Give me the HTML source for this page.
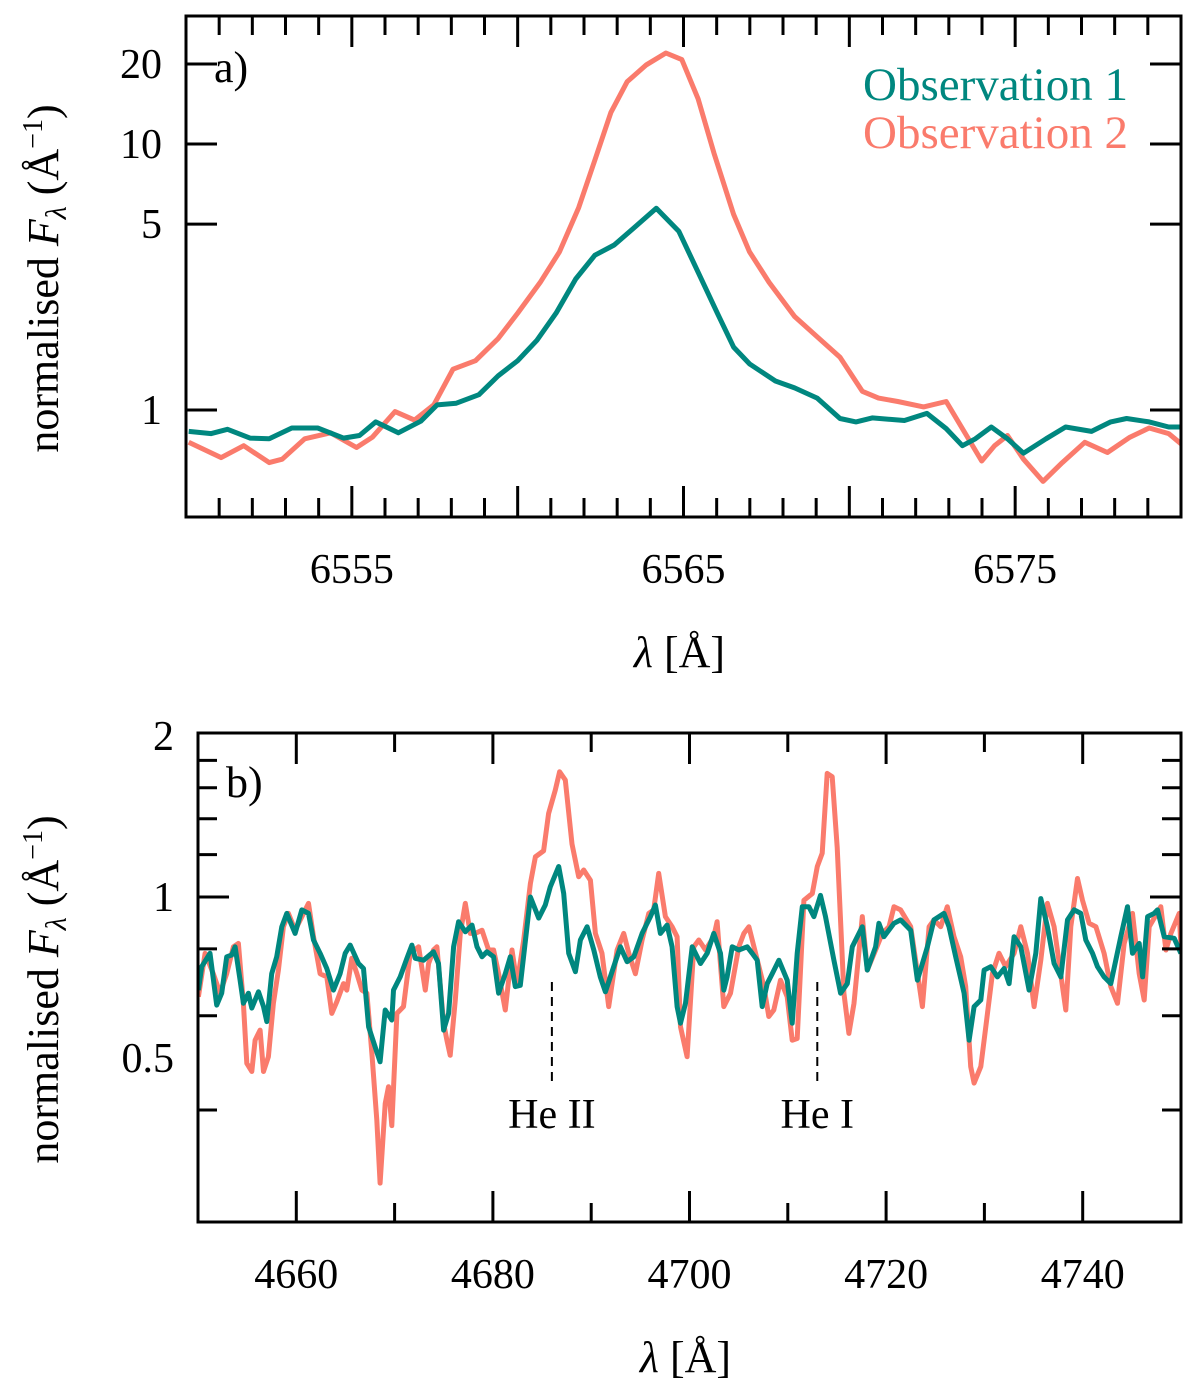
<!DOCTYPE html>
<html><head><meta charset="utf-8"><style>
html,body{margin:0;padding:0;background:#fff;}
svg{display:block;}
svg text{font-family:"Liberation Serif","Times New Roman","DejaVu Serif",serif;}
</style></head><body>
<svg id="chart" width="1200" height="1383" viewBox="0 0 1200 1383" xmlns="http://www.w3.org/2000/svg" font-family="Liberation Serif, serif"></svg>
<script>
// ---------- Panel a data (H-alpha) ----------
const aObs1Wave=[6550.08,6550.76,6551.25,6551.93,6552.51,6553.19,6553.97,6554.75,6555.23,6555.72,6556.40,6557.08,6557.57,6558.15,6558.83,6559.41,6560.00,6560.58,6561.16,6561.75,6562.33,6562.91,6563.50,6564.18,6564.86,6565.44,6566.02,6566.51,6567.00,6567.77,6568.35,6569.03,6569.72,6570.20,6570.69,6571.66,6572.34,6572.92,6573.41,6573.80,6574.28,6574.77,6575.25,6575.93,6576.52,6577.30,6577.88,6578.36,6579.04,6579.63,6580.0];
const aObs1Flux=[0.831,0.815,0.846,0.784,0.779,0.856,0.856,0.784,0.802,0.902,0.821,0.908,1.045,1.061,1.142,1.343,1.533,1.828,2.314,3.108,3.819,4.172,4.833,5.733,4.693,3.296,2.314,1.724,1.488,1.285,1.211,1.109,0.929,0.902,0.934,0.913,0.971,0.851,0.734,0.779,0.863,0.779,0.688,0.779,0.863,0.831,0.902,0.929,0.902,0.863,0.863];
const aObs2Wave=[6550.08,6551.06,6551.74,6552.51,6552.90,6553.58,6554.36,6555.14,6555.62,6556.30,6556.89,6557.47,6558.05,6558.73,6559.41,6560.00,6560.68,6561.26,6561.84,6562.33,6562.81,6563.30,6563.88,6564.47,6564.95,6565.44,6565.92,6566.51,6566.99,6567.58,6568.35,6569.03,6569.72,6570.39,6570.88,6571.46,6572.24,6572.92,6573.41,6573.99,6574.38,6574.77,6575.25,6575.84,6576.42,6577.10,6577.78,6578.46,6579.04,6579.63,6580.0];
const aObs2Flux=[0.756,0.662,0.734,0.634,0.653,0.779,0.821,0.723,0.790,0.986,0.916,1.045,1.424,1.533,1.856,2.314,3.018,3.933,5.77,8.71,13.15,17.14,19.86,22.0,20.77,14.8,9.24,5.44,3.933,3.018,2.247,1.884,1.579,1.176,1.109,1.076,1.027,1.076,0.851,0.643,0.734,0.802,0.653,0.539,0.634,0.756,0.692,0.790,0.856,0.815,0.746];
const aXTicks=[6555,6565,6575];
const aYTicks=[1,5,10,20];

// ---------- Panel b data (He region) ----------
const bObs1Wave=[4650.04,4650.38,4651.22,4651.90,4652.41,4652.92,4653.43,4653.77,4654.28,4654.62,4655.13,4655.47,4656.15,4656.66,4657.00,4657.50,4658.01,4658.52,4659.03,4659.88,4660.56,4661.24,4661.75,4662.42,4663.10,4663.78,4664.46,4664.97,4665.48,4666.33,4666.84,4667.35,4668.02,4668.53,4669.04,4669.72,4669.89,4670.57,4671.25,4671.76,4672.10,4672.95,4673.96,4674.47,4674.98,4675.49,4676.00,4676.51,4677.19,4677.87,4678.38,4678.89,4679.39,4680.07,4680.58,4681.26,4681.77,4682.28,4682.79,4683.47,4683.81,4684.66,4685.33,4685.84,4686.69,4687.20,4687.71,4688.39,4688.90,4689.58,4690.26,4690.93,4691.44,4692.29,4692.97,4693.65,4694.33,4695.18,4696.02,4696.53,4697.04,4697.72,4698.23,4698.74,
4699.08,4699.59,4700.27,4701.12,4701.80,4702.47,4703.15,4703.49,4703.83,4704.34,4705.02,4705.87,4706.38,4706.89,4707.40,4707.90,4708.41,4709.09,4709.94,4710.45,4710.96,4711.47,4712.15,4712.66,4713.33,4713.84,4714.69,4715.37,4716.05,4716.56,4717.58,4718.09,4718.93,4719.27,4719.78,4720.80,4721.48,4722.50,4723.18,4724.20,4724.87,4725.89,4726.40,4727.08,4727.93,4728.44,4728.95,4729.63,4729.97,4730.64,4731.32,4732.00,4732.51,4733.02,4733.70,4734.55,4735.23,4735.74,4736.41,4737.09,4737.77,4738.45,4739.13,4739.81,4740.32,4741.00,4741.51,4742.18,4742.86,4743.88,4744.56,4745.07,4745.75,4746.09,4746.60,4747.27,4747.61,4748.29,4749.31,4749.99];
const bObs1Flux=[0.670,0.741,0.785,0.628,0.661,0.773,0.779,0.807,0.699,0.633,0.661,0.620,0.665,0.624,0.585,0.719,0.773,0.880,0.932,0.855,0.946,0.932,0.831,0.785,0.735,0.670,0.719,0.785,0.813,0.751,0.735,0.572,0.525,0.492,0.615,0.589,0.670,0.709,0.768,0.813,0.768,0.762,0.790,0.751,0.564,0.606,0.807,0.899,0.861,0.886,0.807,0.773,0.790,0.773,0.661,0.719,0.773,0.680,0.684,0.880,1.000,0.913,0.966,1.045,1.140,1.015,0.785,0.725,0.831,0.880,0.796,0.709,0.665,0.741,0.807,0.757,0.773,0.855,0.919,0.966,0.855,0.886,0.807,0.624,
0.581,0.633,0.807,0.751,0.785,0.855,0.785,0.670,0.709,0.807,0.796,0.807,0.785,0.762,0.624,0.689,0.719,0.762,0.699,0.581,0.785,0.959,0.959,0.919,1.007,0.919,0.762,0.661,0.689,0.807,0.880,0.730,0.807,0.893,0.843,0.893,0.906,0.867,0.699,0.807,0.906,0.932,0.880,0.773,0.661,0.540,0.624,0.642,0.730,0.741,0.709,0.735,0.689,0.843,0.807,0.670,0.785,0.993,0.880,0.751,0.709,0.906,0.946,0.932,0.831,0.785,0.741,0.709,0.689,0.843,0.959,0.785,0.819,0.709,0.919,0.932,0.946,0.843,0.837,0.785];
const bObs2Wave=[4650.04,4650.72,4651.56,4652.24,4652.92,4653.60,4654.11,4654.62,4654.96,4655.47,4655.81,4656.32,4656.66,4657.16,4657.67,4658.18,4658.69,4659.20,4659.88,4661.24,4661.75,4662.42,4663.10,4663.61,4664.12,4664.80,4665.14,4665.65,4666.16,4666.67,4667.18,4667.69,4668.19,4668.53,4669.04,4669.38,4669.72,4670.23,4670.91,4671.59,4672.44,4673.12,4673.46,4673.96,4674.30,4674.98,4675.32,4675.66,4676.17,4676.68,4677.19,4677.70,4678.21,4678.89,4679.56,4680.07,4680.58,4681.26,4681.94,4682.45,4683.13,4683.81,4684.32,4685.16,4685.67,4686.35,4686.79,4687.37,4688.05,4688.73,4689.24,4689.92,4690.43,4691.10,4691.78,4692.63,4693.31,4693.82,4694.50,4695.18,4695.86,4696.36,4696.87,4697.55,4698.23,4698.74,
4699.08,4699.76,4700.44,4700.95,4701.63,4702.47,4702.81,4703.49,4704.17,4705.02,4705.53,4706.04,4706.72,4707.57,4708.07,4708.58,4709.26,4709.94,4710.45,4710.96,4711.64,4712.49,4713.00,4713.50,4714.01,4714.52,4715.03,4715.71,4716.22,4716.73,4717.58,4718.09,4718.93,4719.61,4720.29,4720.80,4721.48,4722.50,4723.69,4724.37,4724.87,4725.55,4726.23,4726.91,4727.59,4728.10,4728.61,4728.95,4729.63,4730.14,4730.81,4731.49,4732.17,4733.02,4733.70,4734.38,4735.06,4735.74,4736.41,4737.09,4737.94,4738.28,4738.79,4739.47,4739.98,4740.66,4741.34,4742.18,4742.86,4743.54,4744.22,4745.07,4745.75,4746.26,4746.77,4747.95,4748.46,4748.97,4749.82,4750.0];
const bObs2Flux=[0.651,0.785,0.719,0.661,0.719,0.807,0.819,0.633,0.489,0.472,0.540,0.564,0.472,0.503,0.633,0.730,0.880,0.932,0.867,0.973,0.843,0.719,0.709,0.606,0.637,0.689,0.670,0.768,0.719,0.670,0.661,0.510,0.383,0.292,0.411,0.442,0.374,0.606,0.624,0.785,0.807,0.670,0.751,0.796,0.807,0.581,0.540,0.506,0.642,0.855,0.973,0.855,0.855,0.867,0.796,0.796,0.719,0.615,0.796,0.689,0.831,1.060,1.189,1.220,1.432,1.584,1.714,1.654,1.256,1.091,1.123,1.075,0.855,0.785,0.624,0.796,0.855,0.785,0.719,0.831,0.932,0.946,1.107,0.919,0.880,0.843,
0.572,0.503,0.807,0.831,0.796,0.843,0.899,0.624,0.661,0.807,0.855,0.880,0.785,0.680,0.598,0.615,0.699,0.651,0.540,0.544,0.986,1.015,1.140,1.207,1.702,1.678,1.238,0.661,0.556,0.633,0.919,0.730,0.796,0.855,0.880,0.959,0.946,0.880,0.624,0.880,0.906,0.880,0.959,0.843,0.773,0.680,0.482,0.449,0.482,0.572,0.719,0.785,0.741,0.785,0.880,0.785,0.624,0.762,0.973,0.880,0.680,0.615,0.880,1.083,0.986,0.893,0.880,0.785,0.680,0.633,0.819,0.932,0.719,0.642,0.880,0.959,0.796,0.855,0.932,0.807];
const bXTicks=[4660,4680,4700,4720,4740];
const bYLabels=[0.5,1,2];
const bYMinor=[0.4,0.6,0.8,1.2,1.4,1.6,1.8];
const lineLabels=[{name:"He II",wave:4686},{name:"He I",wave:4713}];

const NS="http://www.w3.org/2000/svg";
const svg=document.getElementById('chart');
const FONT='"Liberation Serif","Times New Roman",serif';
function mk(tag,attrs,parent){const e=document.createElementNS(NS,tag);for(const k in attrs)e.setAttribute(k,attrs[k]);if(tag==='text')e.style.fontFamily=FONT;(parent||svg).appendChild(e);return e;}
const TEAL="#00877f", SALMON="#fa7b6c";

function panel(P){
  const g=mk('g',{});
  
  
  const X=v=>P.x0+(v-P.xmin)/(P.xmax-P.xmin)*(P.x1-P.x0);
  const Y=v=>P.y1-(Math.log10(v)-Math.log10(P.ymin))/(Math.log10(P.ymax)-Math.log10(P.ymin))*(P.y1-P.y0);
  P.X=X;P.Y=Y;
  const clipId='clip-'+P.name;
  const cp=mk('clipPath',{id:clipId},g);
  mk('rect',{x:P.x0,y:P.y0,width:P.x1-P.x0,height:P.y1-P.y0},cp);
  P.series.forEach(s=>{
    let d='';
    s.wave.forEach((w,i)=>{d+=(i?'L':'M')+X(w).toFixed(1)+' '+Y(s.flux[i]).toFixed(1);});
    const p=mk('path',{d:d,fill:'none',stroke:s.color,'stroke-width':5,'stroke-linejoin':'round','clip-path':'url(#'+clipId+')'},g);
    
    
  });
  const fr=mk('rect',{x:P.x0,y:P.y0,width:P.x1-P.x0,height:P.y1-P.y0,fill:'none',stroke:'#000','stroke-width':3},g);
  
  
  for(let v=P.xmin+P.xminor;v<P.xmax-1e-6;v+=P.xminor){
    const isMaj=Math.abs(((v-P.xmajorBase)/P.xmajor)-Math.round((v-P.xmajorBase)/P.xmajor))<1e-6;
    const L=isMaj?31:19, x=X(v);
    mk('line',{x1:x,x2:x,y1:P.y1,y2:P.y1-L,stroke:'#000','stroke-width':3},g);
    mk('line',{x1:x,x2:x,y1:P.y0,y2:P.y0+L,stroke:'#000','stroke-width':3},g);
  }
  P.xLabels.forEach(v=>{
    const t=mk('text',{x:X(v),y:P.y1+66,'font-size':42,'text-anchor':'middle'},g);
    t.textContent=v;
    
    
  });
  P.yMajor.forEach(v=>{const y=Y(v);
    mk('line',{x1:P.x0,x2:P.x0+31,y1:y,y2:y,stroke:'#000','stroke-width':3},g);
    mk('line',{x1:P.x1,x2:P.x1-31,y1:y,y2:y,stroke:'#000','stroke-width':3},g);});
  P.yMinor.forEach(v=>{const y=Y(v);
    mk('line',{x1:P.x0,x2:P.x0+19,y1:y,y2:y,stroke:'#000','stroke-width':3},g);
    mk('line',{x1:P.x1,x2:P.x1-19,y1:y,y2:y,stroke:'#000','stroke-width':3},g);});
  P.yLabels.forEach(v=>{
    const t=mk('text',{x:P.x0-24,y:Y(v)+14,'font-size':42,'text-anchor':'end'},g);
    t.textContent=v;
    
    
  });
  const xt=mk('text',{x:(P.x0+P.x1)/2-4,y:P.y1+150,'font-size':44,'text-anchor':'middle'},g);
  xt.innerHTML='<tspan font-style="italic">λ</tspan> [Å]';
  
  
  const cy=(P.y0+P.y1)/2+12;
  const yt=mk('text',{x:0,y:0,'font-size':44,'text-anchor':'middle',transform:'translate(58,'+cy+') rotate(-90)'},g);
  yt.innerHTML='normalised <tspan font-style="italic">F</tspan><tspan font-style="italic" font-size="30" dy="8">λ</tspan><tspan dy="-8"> (Å</tspan><tspan font-size="28" dy="-16">−1</tspan><tspan dy="16">)</tspan>';
  
  
  const pl=mk('text',{x:P.labelX,y:P.labelY,'font-size':44},g);
  pl.textContent=P.label;
  
  
  return g;
}

const A={name:'panel-a-halpha',x0:186,x1:1181,y0:16,y1:517,xmin:6550,xmax:6580,ymin:0.396,ymax:30.3,
  xminor:1,xmajor:5,xmajorBase:6555,xLabels:aXTicks,yMajor:aYTicks,yMinor:[],yLabels:aYTicks,label:'a)',labelX:214,labelY:82,
  series:[{name:'obs2-line-a',wave:aObs2Wave,flux:aObs2Flux,color:SALMON},{name:'obs1-line-a',wave:aObs1Wave,flux:aObs1Flux,color:TEAL}]};
panel(A);
const B={name:'panel-b-helium',x0:198,x1:1181,y0:733,y1:1222,xmin:4650,xmax:4750,ymin:0.247,ymax:2.025,
  xminor:10,xmajor:20,xmajorBase:4660,xLabels:bXTicks,yMajor:[1],yMinor:bYMinor,yLabels:bYLabels,label:'b)',labelX:226,labelY:797,
  series:[{name:'obs2-line-b',wave:bObs2Wave,flux:bObs2Flux,color:SALMON},{name:'obs1-line-b',wave:bObs1Wave,flux:bObs1Flux,color:TEAL}]};
panel(B);

const l1=mk('text',{x:1128,y:100,'font-size':47,'text-anchor':'end',fill:TEAL});
l1.textContent='Observation 1';


const l2=mk('text',{x:1128,y:148,'font-size':47,'text-anchor':'end',fill:SALMON});
l2.textContent='Observation 2';



lineLabels.forEach(L=>{
  const x=B.X(L.wave);
  const dl=mk('line',{x1:x,x2:x,y1:982,y2:1085,stroke:'#000','stroke-width':2,'stroke-dasharray':'9,6'});
  
  
  const t=mk('text',{x:x,y:1128,'font-size':42,'text-anchor':'middle'});
  t.textContent=L.name;
  
  
});
</script>
</body></html>
